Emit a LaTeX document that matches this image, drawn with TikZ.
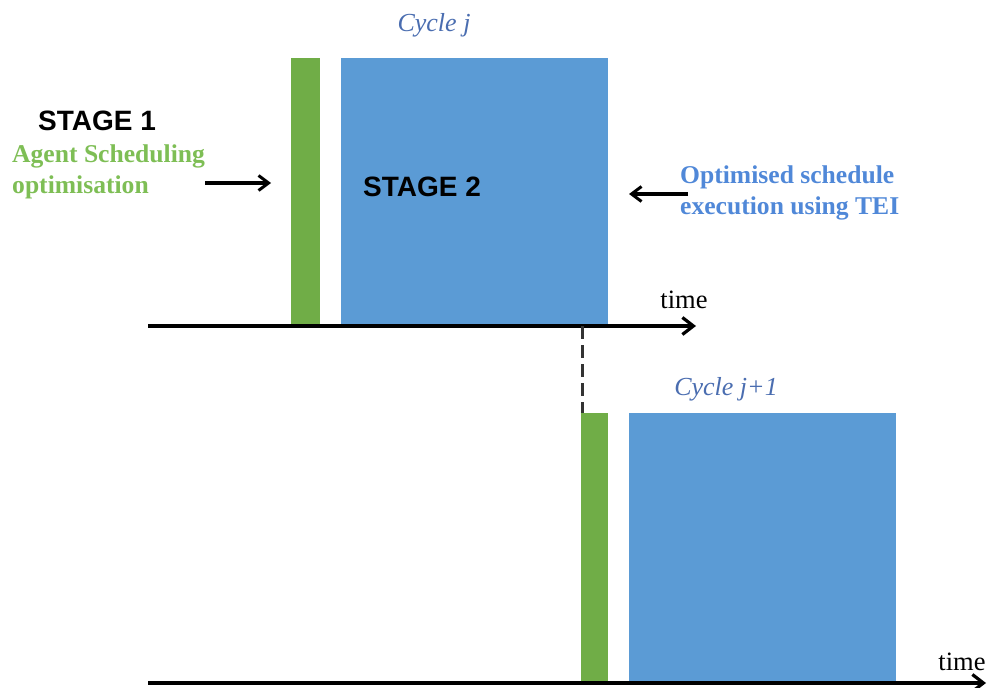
\documentclass[tikz,border=0pt]{standalone}
\usepackage{fontspec}
\setmainfont{Liberation Serif}
\setsansfont{Liberation Sans}
\usetikzlibrary{arrows.meta}
\definecolor{barG}{HTML}{70AD47}
\definecolor{barB}{HTML}{5B9BD5}
\definecolor{txtG}{HTML}{7EBE55}
\definecolor{txtB}{HTML}{5088D8}
\definecolor{cyc}{HTML}{4A6DB0}
\tikzset{
  greenbar/.style={fill=barG, draw=none, inner sep=0pt, anchor=north west},
  bluebar/.style={fill=barB, draw=none, inner sep=0pt, anchor=north west},
  axis/.style={line width=3.6pt, -{Straight Barb[length=11pt,width=17pt,line width=3.2pt]}},
  pointer/.style={line width=3.2pt, -{Straight Barb[length=10pt,width=15pt,line width=3pt]}},
  stagetxt/.style={font=\sffamily\bfseries\fontsize{28}{32}\selectfont, inner sep=0pt},
  cyctxt/.style={font=\itshape\fontsize{26}{30}\selectfont, text=cyc, inner sep=0pt},
  timetxt/.style={font=\fontsize{26.5}{30}\selectfont, inner sep=0pt},
  boldtxt/.style={font=\bfseries\fontsize{25.6}{31}\selectfont, inner sep=0pt, align=left},
}
\begin{document}
\begin{tikzpicture}[x=1pt,y=-1pt]
\useasboundingbox (0,0) rectangle (991,688);
% cycle j
\node[greenbar, minimum width=29pt, minimum height=268pt] (g1) at (291,58) {};
\node[bluebar, minimum width=267pt, minimum height=268pt] (b1) at (341,58) {};
% cycle j+1
\node[greenbar, minimum width=27pt, minimum height=270pt] (g2) at (581,413) {};
\node[bluebar, minimum width=267pt, minimum height=270pt] (b2) at (629,413) {};
% axes
\coordinate (a1s) at (148,326);
\coordinate (a1e) at (696,326);
\coordinate (a2s) at (148,683);
\coordinate (a2e) at (986,683);
\draw[axis] (a1s) -- (a1e);
\draw[axis] (a2s) -- (a2e);
% dashed link
\coordinate (d1) at (582,326);
\coordinate (d2) at (582,413);
\draw[line width=3pt, dash pattern=on 13pt off 6pt, black!80] (d1) -- (d2);
% labels
\node[cyctxt] (cj) at (434,25) {Cycle j};
\node[cyctxt] (cj1) at (726,389) {Cycle j+1};
\node[timetxt, anchor=base] (t1) at (684,308) {time};
\node[timetxt, anchor=base] (t2) at (962,670) {time};
\node[stagetxt, anchor=base west] (s1) at (38,130) {STAGE 1};
\node[stagetxt, anchor=base west] (s2) at (363,196) {STAGE 2};
\node[boldtxt, text=txtG, anchor=west] (agent) at (12,172) {Agent Scheduling\\optimisation};
\node[boldtxt, text=txtB, anchor=west] (opt) at (680,193) {Optimised schedule\\execution using TEI};
% pointer arrows
\coordinate (p1) at (205,183);
\coordinate (p2) at (271,183);
\draw[pointer] (p1) -- (p2);
\coordinate (q1) at (688,194);
\coordinate (q2) at (629,194);
\draw[pointer] (q1) -- (q2);
\end{tikzpicture}
\end{document}
